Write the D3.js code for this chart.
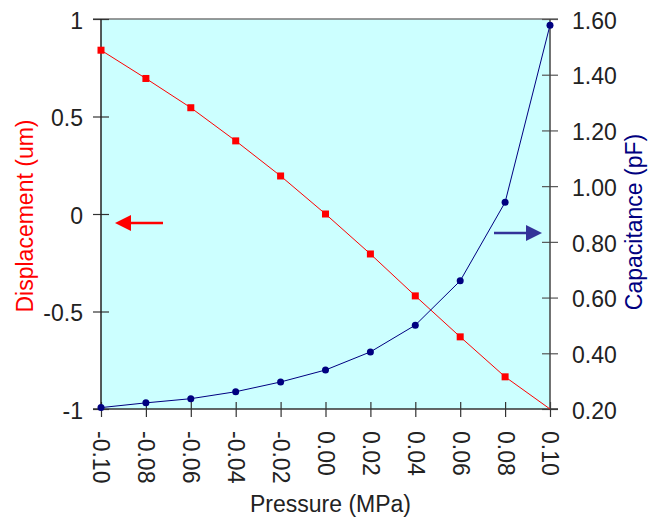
<!DOCTYPE html>
<html><head><meta charset="utf-8">
<script src="https://cdn.jsdelivr.net/npm/d3@7"></script>
<style>body{margin:0;background:#fff}svg{display:block}text{font-family:"Liberation Sans",Arial,sans-serif}</style>
</head><body><svg id="c" width="657" height="517"></svg>
<script>
const pressure = [-0.10,-0.08,-0.06,-0.04,-0.02,0.00,0.02,0.04,0.06,0.08,0.10];
const displacement = [0.84,0.695,0.545,0.375,0.195,0.0,-0.205,-0.42,-0.63,-0.835,-1.0];
const capacitance = [0.205,0.222,0.237,0.262,0.297,0.34,0.405,0.501,0.66,0.942,1.578];
const xTicks = [-0.10,-0.08,-0.06,-0.04,-0.02,0.00,0.02,0.04,0.06,0.08,0.10];
const yLeftTicks = [-1,-0.5,0,0.5,1];
const yRightTicks = [0.20,0.40,0.60,0.80,1.00,1.20,1.40,1.60];

const L=101,R=550,T=19,B=409;
const svg=d3.select("#c");
const x=d3.scaleLinear().domain([-0.1,0.1]).range([L,R]);
const yL=d3.scaleLinear().domain([-1,1]).range([B,T]);
const yR=d3.scaleLinear().domain([0.2,1.6]).range([B,T]);

svg.append("rect").attr("x",L).attr("y",T).attr("width",R-L).attr("height",B-T).attr("fill","#CCFFFF");
svg.append("line").attr("x1",93).attr("x2",558).attr("y1",T).attr("y2",T).attr("stroke","#777").attr("stroke-width",1.5);

function styleAxis(g,col){
  g.select(".domain").remove();
  g.selectAll(".tick line").attr("stroke",col).attr("stroke-width",1.2);
  g.selectAll(".tick text").attr("fill","#222").style("font-size","23px").style("font-family","Liberation Sans, Arial, sans-serif");
}
// left axis
const gl=svg.append("g").attr("transform",`translate(${L},0)`)
 .call(d3.axisLeft(yL).tickValues(yLeftTicks).tickFormat(d=>d===0?"0":(d<0?"-"+Math.abs(d):String(d))).tickSize(8));
styleAxis(gl,"#333");
gl.selectAll(".tick line").attr("x2",8).attr("x1",-8);
gl.selectAll(".tick text").attr("x",-18).attr("dy","0.4em");
// right axis
const gr=svg.append("g").attr("transform",`translate(${R},0)`)
 .call(d3.axisRight(yR).tickValues(yRightTicks).tickFormat(d3.format(".2f")).tickSize(8));
styleAxis(gr,"#555");
gr.selectAll(".tick line").attr("x1",-8).attr("x2",8);
gr.selectAll(".tick text").attr("x",22).attr("dy","0.4em");
// bottom axis
const gb=svg.append("g").attr("transform",`translate(0,${B})`)
 .call(d3.axisBottom(x).tickValues(xTicks).tickFormat(d=>(d<0?"-":"")+Math.abs(d).toFixed(2)).tickSize(8));
styleAxis(gb,"#333");
gb.selectAll(".tick line").attr("y1",-7).attr("y2",8);
gb.selectAll(".tick text").attr("transform","rotate(90)").attr("x",22).attr("y",0).attr("dy","0.35em").attr("text-anchor","start");

svg.append("line").attr("x1",L).attr("x2",L).attr("y1",T).attr("y2",B).attr("stroke","#222").attr("stroke-width",1.5);
svg.append("line").attr("x1",R).attr("x2",R).attr("y1",T).attr("y2",B+1).attr("stroke","#444").attr("stroke-width",1.5);
svg.append("line").attr("x1",93).attr("x2",558).attr("y1",B).attr("y2",B).attr("stroke","#333").attr("stroke-width",1.5);

// displacement line
svg.append("path").datum(pressure.map((p,i)=>[p,displacement[i]]))
 .attr("d",d3.line().x(d=>x(d[0])).y(d=>yL(d[1]))).attr("fill","none").attr("stroke","#FF0000").attr("stroke-width",1);
svg.selectAll(".sq").data(pressure.slice(0,10)).enter().append("rect")
 .attr("x",(d)=>x(d)-3.5).attr("y",(d,i)=>yL(displacement[i])-3.5).attr("width",7).attr("height",7).attr("fill","#FF0000");

// capacitance line
svg.append("path").datum(pressure.map((p,i)=>[p,capacitance[i]]))
 .attr("d",d3.line().x(d=>x(d[0])).y(d=>yR(d[1]))).attr("fill","none").attr("stroke","#000080").attr("stroke-width",1);
svg.selectAll(".ci").data(pressure).enter().append("circle")
 .attr("cx",d=>x(d)).attr("cy",(d,i)=>yR(capacitance[i])).attr("r",3.5).attr("fill","#000080");

// arrows
svg.append("line").attr("x1",163).attr("x2",128).attr("y1",223).attr("y2",223).attr("stroke","#FF0000").attr("stroke-width",2.5);
svg.append("path").attr("d","M115,223 L131,215 L131,231 Z").attr("fill","#FF0000");
svg.append("line").attr("x1",494).attr("x2",528).attr("y1",233).attr("y2",233).attr("stroke","#333399").attr("stroke-width",2.5);
svg.append("path").attr("d","M542,233 L526,225 L526,241 Z").attr("fill","#333399");

// titles
svg.append("text").attr("transform","translate(33,216) rotate(-90)").attr("text-anchor","middle")
 .attr("fill","#FF0000").style("font-size","23px").text("Displacement (um)");
svg.append("text").attr("transform","translate(642,222) rotate(-90)").attr("text-anchor","middle")
 .attr("fill","#000080").style("font-size","23px").text("Capacitance (pF)");
svg.append("text").attr("x",(L+R)/2+5).attr("y",512).attr("text-anchor","middle")
 .attr("fill","#222").style("font-size","23px").text("Pressure (MPa)");
</script></body></html>
